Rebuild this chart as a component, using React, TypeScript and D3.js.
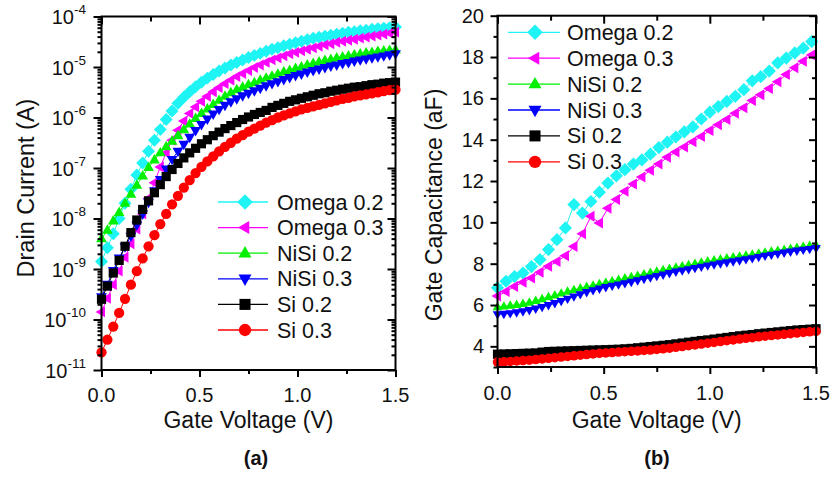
import * as d3 from 'd3';
import React, { useRef, useEffect } from 'react';

// gate voltage sweeps (V)
const vgs = [0, 0.03, 0.06, 0.09, 0.12, 0.15, 0.18, 0.21, 0.24, 0.27, 0.3, 0.33, 0.36, 0.39, 0.42, 0.45, 0.48, 0.51, 0.54, 0.57,
  0.6, 0.63, 0.66, 0.69, 0.72, 0.75, 0.78, 0.81, 0.84, 0.87, 0.9, 0.93, 0.96, 0.99, 1.02, 1.05, 1.08, 1.11, 1.14, 1.17,
  1.2, 1.23, 1.26, 1.29, 1.32, 1.35, 1.38, 1.41, 1.44, 1.47, 1.5];
const vgsCv = [0, 0.04, 0.08, 0.12, 0.16, 0.2, 0.24, 0.28, 0.32, 0.36, 0.4, 0.44, 0.48, 0.52, 0.56, 0.6, 0.64, 0.68, 0.72,
  0.76, 0.8, 0.84, 0.88, 0.92, 0.96, 1.0, 1.04, 1.08, 1.12, 1.16, 1.2, 1.24, 1.28, 1.32, 1.36, 1.4, 1.44, 1.48];

// (a) drain current, log10(A)
const omega02Id = [-8.85, -8.58, -8.30, -8.00, -7.70, -7.42, -7.14, -6.90, -6.67, -6.45,
  -6.24, -6.04, -5.87, -5.72, -5.60, -5.49, -5.39, -5.30, -5.22, -5.15,
  -5.08, -5.02, -4.96, -4.91, -4.86, -4.81, -4.77, -4.73, -4.69, -4.65,
  -4.62, -4.58, -4.55, -4.52, -4.49, -4.46, -4.43, -4.41, -4.39, -4.37,
  -4.35, -4.33, -4.31, -4.30, -4.28, -4.27, -4.25, -4.24, -4.23, -4.22, -4.21];
const omega03Id = [-9.85, -9.58, -9.31, -9.04, -8.77, -8.50, -8.21, -7.91, -7.60, -7.29,
  -6.98, -6.70, -6.45, -6.25, -6.07, -5.92, -5.79, -5.68, -5.58, -5.49,
  -5.41, -5.33, -5.26, -5.19, -5.13, -5.07, -5.01, -4.96, -4.91, -4.86,
  -4.82, -4.78, -4.74, -4.71, -4.68, -4.65, -4.62, -4.59, -4.56, -4.54,
  -4.51, -4.49, -4.47, -4.45, -4.43, -4.41, -4.39, -4.37, -4.35, -4.33, -4.31];
const nisi02Id = [-8.40, -8.23, -8.05, -7.88, -7.70, -7.52, -7.34, -7.16, -6.99, -6.84,
  -6.70, -6.58, -6.47, -6.36, -6.24, -6.13, -6.02, -5.92, -5.83, -5.74,
  -5.66, -5.58, -5.51, -5.45, -5.40, -5.35, -5.31, -5.26, -5.22, -5.18,
  -5.14, -5.10, -5.07, -5.03, -5.00, -4.96, -4.93, -4.90, -4.87, -4.85,
  -4.82, -4.80, -4.78, -4.76, -4.74, -4.72, -4.71, -4.69, -4.68, -4.67, -4.66];
const nisi03Id = [-9.55, -9.30, -9.03, -8.78, -8.56, -8.35, -8.13, -7.91, -7.68, -7.45,
  -7.23, -7.02, -6.83, -6.67, -6.53, -6.39, -6.26, -6.14, -6.03, -5.93,
  -5.84, -5.76, -5.69, -5.63, -5.57, -5.52, -5.47, -5.42, -5.37, -5.33,
  -5.29, -5.25, -5.21, -5.17, -5.14, -5.10, -5.07, -5.04, -5.01, -4.98,
  -4.96, -4.93, -4.91, -4.88, -4.86, -4.84, -4.82, -4.80, -4.78, -4.76, -4.74];
const si02Id = [-9.60, -9.34, -9.08, -8.83, -8.55, -8.28, -8.03, -7.82, -7.65, -7.49,
  -7.33, -7.17, -7.03, -6.91, -6.80, -6.70, -6.61, -6.52, -6.44, -6.36,
  -6.29, -6.22, -6.16, -6.10, -6.04, -5.99, -5.94, -5.90, -5.86, -5.80,
  -5.76, -5.72, -5.68, -5.65, -5.62, -5.59, -5.56, -5.53, -5.51, -5.48,
  -5.46, -5.44, -5.42, -5.40, -5.39, -5.37, -5.35, -5.34, -5.32, -5.31, -5.30];
const si03Id = [-10.65, -10.40, -10.14, -9.87, -9.59, -9.31, -9.04, -8.79, -8.55, -8.33,
  -8.11, -7.91, -7.72, -7.55, -7.39, -7.24, -7.10, -6.98, -6.87, -6.77,
  -6.67, -6.58, -6.50, -6.42, -6.35, -6.28, -6.22, -6.16, -6.10, -6.05,
  -6.00, -5.96, -5.92, -5.88, -5.84, -5.81, -5.78, -5.75, -5.72, -5.69,
  -5.66, -5.63, -5.61, -5.58, -5.56, -5.54, -5.52, -5.50, -5.48, -5.46, -5.45];

// (b) gate capacitance, aF
const omega02Cg = [6.83, 7.15, 7.38, 7.55, 7.86, 8.20, 8.68, 9.16, 9.73, 10.86,
  10.45, 11.01, 11.46, 11.90, 12.25, 12.55, 12.82, 13.02, 13.30, 13.62,
  13.88, 14.13, 14.38, 14.62, 15.00, 15.33, 15.60, 15.85, 16.10, 16.42,
  16.85, 17.05, 17.32, 17.72, 17.95, 18.20, 18.43, 18.75];
const omega03Cg = [6.43, 6.65, 6.90, 7.10, 7.31, 7.58, 7.87, 8.10, 8.38, 8.83,
  9.45, 10.29, 9.97, 10.68, 11.10, 11.50, 11.85, 12.20, 12.52, 12.82,
  13.15, 13.40, 13.65, 13.90, 14.15, 14.45, 14.72, 14.98, 15.28, 15.55,
  15.90, 16.17, 16.48, 16.80, 17.15, 17.48, 17.80, 18.10];
const nisi02Cg = [5.90, 5.93, 5.97, 6.01, 6.06, 6.12, 6.20, 6.29, 6.38, 6.47,
  6.56, 6.65, 6.73, 6.81, 6.88, 6.94, 7.02, 7.08, 7.15, 7.22,
  7.29, 7.35, 7.42, 7.49, 7.56, 7.62, 7.69, 7.75, 7.81, 7.87,
  7.93, 7.99, 8.05, 8.11, 8.16, 8.21, 8.26, 8.31, 8.35, 8.39,
  8.44, 8.49, 8.54, 8.59, 8.63, 8.67, 8.72, 8.77, 8.82, 8.86, 8.90];
const nisi03Cg = [5.55, 5.57, 5.60, 5.64, 5.69, 5.75, 5.82, 5.90, 5.99, 6.09,
  6.19, 6.30, 6.41, 6.52, 6.62, 6.71, 6.79, 6.86, 6.93, 6.99,
  7.05, 7.12, 7.19, 7.26, 7.33, 7.40, 7.47, 7.54, 7.61, 7.67,
  7.73, 7.79, 7.85, 7.91, 7.96, 8.01, 8.06, 8.11, 8.16, 8.21,
  8.26, 8.32, 8.38, 8.43, 8.48, 8.53, 8.58, 8.63, 8.67, 8.71, 8.75];
const si02Cg = [3.62, 3.63, 3.64, 3.65, 3.66, 3.67, 3.68, 3.72, 3.75, 3.76,
  3.77, 3.78, 3.79, 3.80, 3.81, 3.82, 3.83, 3.84, 3.85, 3.86,
  3.88, 3.90, 3.93, 3.96, 3.99, 4.02, 4.05, 4.08, 4.12, 4.16,
  4.20, 4.24, 4.28, 4.31, 4.35, 4.39, 4.43, 4.47, 4.51, 4.54,
  4.57, 4.61, 4.64, 4.67, 4.70, 4.73, 4.76, 4.79, 4.81, 4.83, 4.85];
const si03Cg = [3.24, 3.25, 3.27, 3.29, 3.31, 3.33, 3.36, 3.39, 3.42, 3.45,
  3.48, 3.51, 3.54, 3.57, 3.60, 3.63, 3.66, 3.68, 3.70, 3.72,
  3.74, 3.76, 3.78, 3.80, 3.82, 3.85, 3.88, 3.91, 3.95, 3.99,
  4.03, 4.07, 4.11, 4.15, 4.19, 4.23, 4.27, 4.31, 4.35, 4.39,
  4.42, 4.46, 4.49, 4.52, 4.55, 4.58, 4.61, 4.64, 4.67, 4.70, 4.72];

const seriesNames = ['Omega 0.2', 'Omega 0.3', 'NiSi 0.2', 'NiSi 0.3', 'Si 0.2', 'Si 0.3'];
const seriesColors = ['#1ef4f4', '#ff00ff', '#00f000', '#0000ff', '#000000', '#ff0000'];
const seriesShapes = ['diamond', 'left', 'up', 'down', 'square', 'circle'];

const idDecades = [-11, -10, -9, -8, -7, -6, -5, -4];
const cgMajor = [4, 6, 8, 10, 12, 14, 16, 18, 20];
const cgMinor = [3, 5, 7, 9, 11, 13, 15, 17, 19];
const vgMajor = [0, 0.5, 1.0, 1.5];
const vgMinor = [0.25, 0.75, 1.25];

const FONT = '"Liberation Sans", Arial, Helvetica, sans-serif';

const symbolPath = (shape: string, r: number) => {
  switch (shape) {
    case 'diamond': { const s = r * 1.2; return `M0,${-s}L${s},0L0,${s}L${-s},0Z`; }
    case 'up': return `M0,${-r * 1.1}L${r},${r * 0.65}L${-r},${r * 0.65}Z`;
    case 'down': return `M0,${r * 1.1}L${r},${-r * 0.65}L${-r},${-r * 0.65}Z`;
    case 'left': return `M${-r * 1.1},0L${r * 0.65},${-r}L${r * 0.65},${r}Z`;
    case 'square': { const s = r * 0.85; return `M${-s},${-s}H${s}V${s}H${-s}Z`; }
    default: { const p = d3.path(); p.arc(0, 0, r * 0.95, 0, Math.PI * 2); return p.toString(); }
  }
};

function tickAxis(g, axis, tx, ty) {
  g.append('g')
    .attr('transform', `translate(${tx},${ty})`)
    .call(axis.tickFormat(() => ''))
    .call(s => s.select('.domain').remove())
    .call(s => s.selectAll('line').attr('stroke', '#000').attr('stroke-width', 2));
}

function plotSeries(g, xs, ys, x, y, color, shape, r) {
  const pts = xs.map((v, i) => [x(v), y(ys[i])]);
  g.append('path').attr('d', d3.line()(pts)).attr('fill', 'none')
    .attr('stroke', color).attr('stroke-width', 1);
  g.append('g').selectAll('path').data(pts).join('path')
    .attr('transform', d => `translate(${d[0]},${d[1]})`)
    .attr('d', symbolPath(shape, r))
    .attr('fill', color);
}

function legend(g, x0, x1, xm, xt, y0, dy) {
  seriesNames.forEach((name, i) => {
    const yy = y0 + i * dy;
    g.append('line').attr('x1', x0).attr('x2', x1).attr('y1', yy).attr('y2', yy)
      .attr('stroke', seriesColors[i]).attr('stroke-width', 1.3);
    g.append('path').attr('transform', `translate(${xm},${yy})`)
      .attr('d', symbolPath(seriesShapes[i], 6.5)).attr('fill', seriesColors[i]);
    g.append('text').attr('x', xt).attr('y', yy + 7.5).attr('font-size', 21.5)
      .attr('font-family', FONT).attr('fill', '#111').text(name);
  });
}

function drawPanelA(g) {
  const L = 101.5, R = 395.5, T = 16.5, B = 370;
  const x = d3.scaleLinear().domain([0, 1.5]).range([L, R]);
  const y = d3.scaleLog().domain([1e-11, 1e-4]).range([B, T]);

  const idSeries = [omega02Id, omega03Id, nisi02Id, nisi03Id, si02Id, si03Id];
  idSeries.forEach((s, i) => {
    plotSeries(g, vgs, s.map(e => Math.pow(10, e)), x, y, seriesColors[i], seriesShapes[i], 5.4);
  });

  const majors = idDecades.map(n => Math.pow(10, n));
  const minors = [];
  idDecades.slice(0, -1).forEach(n => { for (let k = 2; k <= 9; k++) minors.push(k * Math.pow(10, n)); });

  tickAxis(g, d3.axisBottom(x).tickValues(vgMajor).tickSize(7), 0, B);
  tickAxis(g, d3.axisBottom(x).tickValues(vgMinor).tickSize(4), 0, B);
  tickAxis(g, d3.axisBottom(x).tickValues(vgMajor).tickSize(8), 0, T);
  tickAxis(g, d3.axisBottom(x).tickValues(vgMinor).tickSize(5), 0, T);
  tickAxis(g, d3.axisLeft(y).tickValues(majors).tickSize(8), L, 0);
  tickAxis(g, d3.axisLeft(y).tickValues(minors).tickSize(4), L, 0);
  tickAxis(g, d3.axisLeft(y).tickValues(majors).tickSize(8), R, 0);
  tickAxis(g, d3.axisLeft(y).tickValues(minors).tickSize(4), R, 0);

  g.append('rect').attr('x', L).attr('y', T).attr('width', R - L).attr('height', B - T)
    .attr('fill', 'none').attr('stroke', '#000').attr('stroke-width', 2);

  idDecades.forEach(n => {
    const t = g.append('text').attr('x', 86).attr('y', y(Math.pow(10, n)) + 7.5)
      .attr('text-anchor', 'end').attr('font-family', FONT).attr('fill', '#111');
    t.append('tspan').attr('font-size', 20).text('10');
    t.append('tspan').attr('font-size', 13.5).attr('dy', -10).text(String(n));
  });
  vgMajor.forEach(v => {
    g.append('text').attr('x', x(v)).attr('y', 402).attr('text-anchor', 'middle')
      .attr('font-size', 20).attr('font-family', FONT).attr('fill', '#111').text(v.toFixed(1));
  });

  g.append('text').attr('x', (L + R) / 2).attr('y', 428).attr('text-anchor', 'middle')
    .attr('font-size', 23).attr('font-family', FONT).attr('fill', '#111').text('Gate Voltage (V)');
  g.append('text').attr('transform', 'translate(34,188) rotate(-90)').attr('text-anchor', 'middle')
    .attr('font-size', 23.5).attr('font-family', FONT).attr('fill', '#111').text('Drain Current (A)');
  g.append('text').attr('x', 256).attr('y', 465).attr('text-anchor', 'middle').attr('font-weight', 'bold')
    .attr('font-size', 20).attr('font-family', FONT).attr('fill', '#111').text('(a)');

  legend(g, 218, 268, 245, 277, 202, 25.6);
}

function drawPanelB(g) {
  const L = 497.5, R = 816, T = 15.7, B = 367;
  const x = d3.scaleLinear().domain([0, 1.5]).range([L, R]);
  const y = d3.scaleLinear().domain([3, 20]).range([B, T]);

  plotSeries(g, vgsCv, omega02Cg, x, y, seriesColors[0], seriesShapes[0], 5.5);
  plotSeries(g, vgsCv, omega03Cg, x, y, seriesColors[1], seriesShapes[1], 5.5);
  plotSeries(g, vgs, nisi02Cg, x, y, seriesColors[2], seriesShapes[2], 4.8);
  plotSeries(g, vgs, nisi03Cg, x, y, seriesColors[3], seriesShapes[3], 4.8);
  plotSeries(g, vgs, si02Cg, x, y, seriesColors[4], seriesShapes[4], 5.4);
  plotSeries(g, vgs, si03Cg, x, y, seriesColors[5], seriesShapes[5], 5.0);

  tickAxis(g, d3.axisBottom(x).tickValues(vgMajor).tickSize(7), 0, B);
  tickAxis(g, d3.axisBottom(x).tickValues(vgMinor).tickSize(5), 0, B);
  tickAxis(g, d3.axisBottom(x).tickValues(vgMajor).tickSize(8), 0, T);
  tickAxis(g, d3.axisBottom(x).tickValues(vgMinor).tickSize(5), 0, T);
  tickAxis(g, d3.axisLeft(y).tickValues(cgMajor).tickSize(7), L, 0);
  tickAxis(g, d3.axisLeft(y).tickValues(cgMinor).tickSize(4), L, 0);
  tickAxis(g, d3.axisLeft(y).tickValues(cgMajor).tickSize(7), R, 0);
  tickAxis(g, d3.axisLeft(y).tickValues(cgMinor).tickSize(4), R, 0);

  g.append('rect').attr('x', L).attr('y', T).attr('width', R - L).attr('height', B - T)
    .attr('fill', 'none').attr('stroke', '#000').attr('stroke-width', 2);

  cgMajor.forEach(v => {
    g.append('text').attr('x', 484).attr('y', y(v) + 7).attr('text-anchor', 'end')
      .attr('font-size', 20).attr('font-family', FONT).attr('fill', '#111').text(String(v));
  });
  vgMajor.forEach(v => {
    g.append('text').attr('x', x(v)).attr('y', 400).attr('text-anchor', 'middle')
      .attr('font-size', 20).attr('font-family', FONT).attr('fill', '#111').text(v.toFixed(1));
  });

  g.append('text').attr('x', (L + R) / 2).attr('y', 428).attr('text-anchor', 'middle')
    .attr('font-size', 23).attr('font-family', FONT).attr('fill', '#111').text('Gate Voltage (V)');
  g.append('text').attr('transform', 'translate(442,205) rotate(-90)').attr('text-anchor', 'middle')
    .attr('font-size', 23).attr('font-family', FONT).attr('fill', '#111').text('Gate Capacitance (aF)');
  g.append('text').attr('x', 657).attr('y', 465).attr('text-anchor', 'middle').attr('font-weight', 'bold')
    .attr('font-size', 20).attr('font-family', FONT).attr('fill', '#111').text('(b)');

  legend(g, 508, 560, 535, 567, 32.3, 25.9);
}

export default function App() {
  const ref = useRef<SVGSVGElement>(null);

  useEffect(() => {
    const svg = d3.select(ref.current);
    svg.selectAll('*').remove();
    drawPanelA(svg.append('g'));
    drawPanelB(svg.append('g'));
  }, []);

  return (
    <svg ref={ref} width={835} height={479}
      style={{ position: 'absolute', left: 0, top: 0, background: '#fff' }} />
  );
}
